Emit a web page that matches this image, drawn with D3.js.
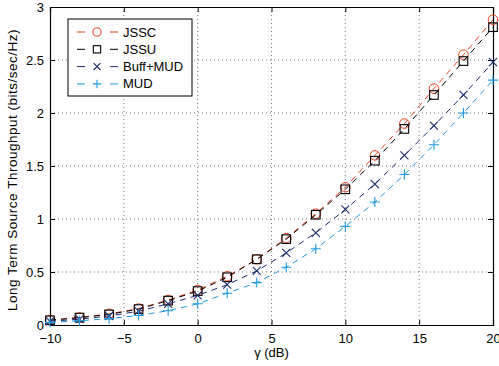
<!DOCTYPE html>
<html>
<head>
<meta charset="utf-8">
<script src="https://cdn.jsdelivr.net/npm/d3@7"></script>
<style>
  body { margin: 0; background: #fff; }
  svg { font-family: "Liberation Sans", Arial, sans-serif; }
</style>
</head>
<body>
<div id="chart"></div>
<script>
// data
const gammaDb = [-10, -8, -6, -4, -2, 0, 2, 4, 6, 8, 10, 12, 14, 16, 18, 20];
const jssc    = [0.045, 0.07, 0.105, 0.155, 0.235, 0.33, 0.46, 0.62, 0.82, 1.05, 1.30, 1.60, 1.90, 2.23, 2.55, 2.88];
const jssu    = [0.045, 0.07, 0.10, 0.15, 0.23, 0.32, 0.45, 0.62, 0.81, 1.04, 1.28, 1.55, 1.85, 2.17, 2.49, 2.81];
const buffMud = [0.035, 0.055, 0.085, 0.13, 0.20, 0.28, 0.38, 0.51, 0.68, 0.87, 1.09, 1.33, 1.60, 1.88, 2.17, 2.48];
const mud     = [0.025, 0.04, 0.06, 0.09, 0.135, 0.20, 0.30, 0.40, 0.545, 0.72, 0.93, 1.16, 1.42, 1.70, 2.00, 2.31];
const xTicks = [-10, -5, 0, 5, 10, 15, 20];
const yTicks = [0, 0.5, 1, 1.5, 2, 2.5, 3];

const series = [
  { name: 'JSSC', values: jssc, color: '#ee3f1c', marker: 'circle' },
  { name: 'JSSU', values: jssu, color: '#000000', marker: 'square' },
  { name: 'Buff+MUD', values: buffMud, color: '#1b2b6e', marker: 'cross' },
  { name: 'MUD', values: mud, color: '#1f9ae0', marker: 'plus' },
];

const width = 499, height = 366;
const margin = { left: 50, right: 6, top: 7, bottom: 41 };
const w = width - margin.left - margin.right;
const h = height - margin.top - margin.bottom;

const svg = d3.select('#chart').append('svg')
  .attr('width', width).attr('height', height);
const g = svg.append('g').attr('transform', `translate(${margin.left},${margin.top})`);

const x = d3.scaleLinear().domain([-10, 20]).range([0, w]);
const y = d3.scaleLinear().domain([0, 3]).range([h, 0]);

// grid
g.append('g').selectAll('line').data(xTicks.slice(1, -1)).join('line')
  .attr('x1', d => x(d)).attr('x2', d => x(d)).attr('y1', 0).attr('y2', h)
  .attr('stroke', '#555').attr('stroke-width', 0.8).attr('stroke-dasharray', '1,3');
g.append('g').selectAll('line').data(yTicks.slice(1, -1)).join('line')
  .attr('y1', d => y(d)).attr('y2', d => y(d)).attr('x1', 0).attr('x2', w)
  .attr('stroke', '#555').attr('stroke-width', 0.8).attr('stroke-dasharray', '1,3');

// axes (ticks inward, mirrored on top/right)
const fmt = d => d < 0 ? '\u2212' + Math.abs(d) : String(d);
g.append('g').attr('transform', `translate(0,${h})`)
  .call(d3.axisBottom(x).tickValues(xTicks).tickSize(-5).tickPadding(9).tickFormat(fmt));
g.append('g')
  .call(d3.axisLeft(y).tickValues(yTicks).tickSize(-5).tickPadding(6).tickFormat(d3.format('')));
g.append('g').call(d3.axisTop(x).tickValues(xTicks).tickSize(-5).tickFormat(''));
g.append('g').attr('transform', `translate(${w},0)`)
  .call(d3.axisRight(y).tickValues(yTicks).tickSize(-5).tickFormat(''));
g.selectAll('.domain').attr('stroke', '#000').attr('stroke-width', 1.2);
g.selectAll('.tick line').attr('stroke', '#000');
g.selectAll('.tick text').attr('font-size', 13).attr('fill', '#000')
  .attr('font-family', '"Liberation Sans", Arial, sans-serif');

// labels
svg.append('text').attr('x', margin.left + w / 2).attr('y', 357)
  .attr('text-anchor', 'middle').attr('font-size', 13).text('\u03b3 (dB)');
svg.append('text')
  .attr('transform', `translate(17,${margin.top + h / 2 + 4}) rotate(-90)`)
  .attr('text-anchor', 'middle').attr('font-size', 13.5).attr('letter-spacing', 0.5)
  .text('Long Term Source Throughput (bits/sec/Hz)');

function drawMarker(sel, type, color, k = 1) {
  if (type === 'circle') {
    sel.append('circle').attr('r', 4.8 * k).attr('fill', 'none').attr('stroke', color).attr('stroke-width', 1);
  } else if (type === 'square') {
    const a = 4.3 * k;
    sel.append('rect').attr('x', -a).attr('y', -a).attr('width', 2 * a).attr('height', 2 * a)
      .attr('fill', 'none').attr('stroke', color).attr('stroke-width', 1.1);
  } else if (type === 'cross') {
    const a = 4 * k;
    sel.append('path').attr('d', `M${-a},${-a}L${a},${a}M${-a},${a}L${a},${-a}`).attr('stroke', color).attr('stroke-width', 1.1);
  } else {
    const a = 5 * k;
    sel.append('path').attr('d', `M${-a},0L${a},0M0,${-a}L0,${a}`).attr('stroke', color).attr('stroke-width', 1.1);
  }
}

const line = d3.line().x(d => x(d[0])).y(d => y(d[1]));
const plot = g.append('g');
series.forEach(s => {
  const pts = gammaDb.map((v, i) => [v, s.values[i]]);
  plot.append('path').datum(pts).attr('d', line)
    .attr('fill', 'none').attr('stroke', s.color).attr('stroke-width', 1)
    .attr('stroke-dasharray', '6,5');
  pts.forEach(p => {
    const m = plot.append('g').attr('transform', `translate(${x(p[0])},${y(p[1])})`);
    drawMarker(m, s.marker, s.color);
  });
});

// legend
const lg = svg.append('g').attr('transform', 'translate(68,19)');
lg.append('rect').attr('width', 124).attr('height', 77)
  .attr('fill', '#fff').attr('stroke', '#000').attr('stroke-width', 1);
series.forEach((s, i) => {
  const row = lg.append('g').attr('transform', `translate(0,${13 + i * 17.3})`);
  [[9, 17], [42, 50]].forEach(([a, b]) => {
    row.append('line').attr('x1', a).attr('x2', b).attr('stroke', s.color).attr('stroke-width', 1);
  });
  const m = row.append('g').attr('transform', 'translate(29,0)');
  drawMarker(m, s.marker, s.color, 0.85);
  row.append('text').attr('x', 55).attr('y', 4.5).attr('font-size', 13).text(s.name);
});
</script>
</body>
</html>
